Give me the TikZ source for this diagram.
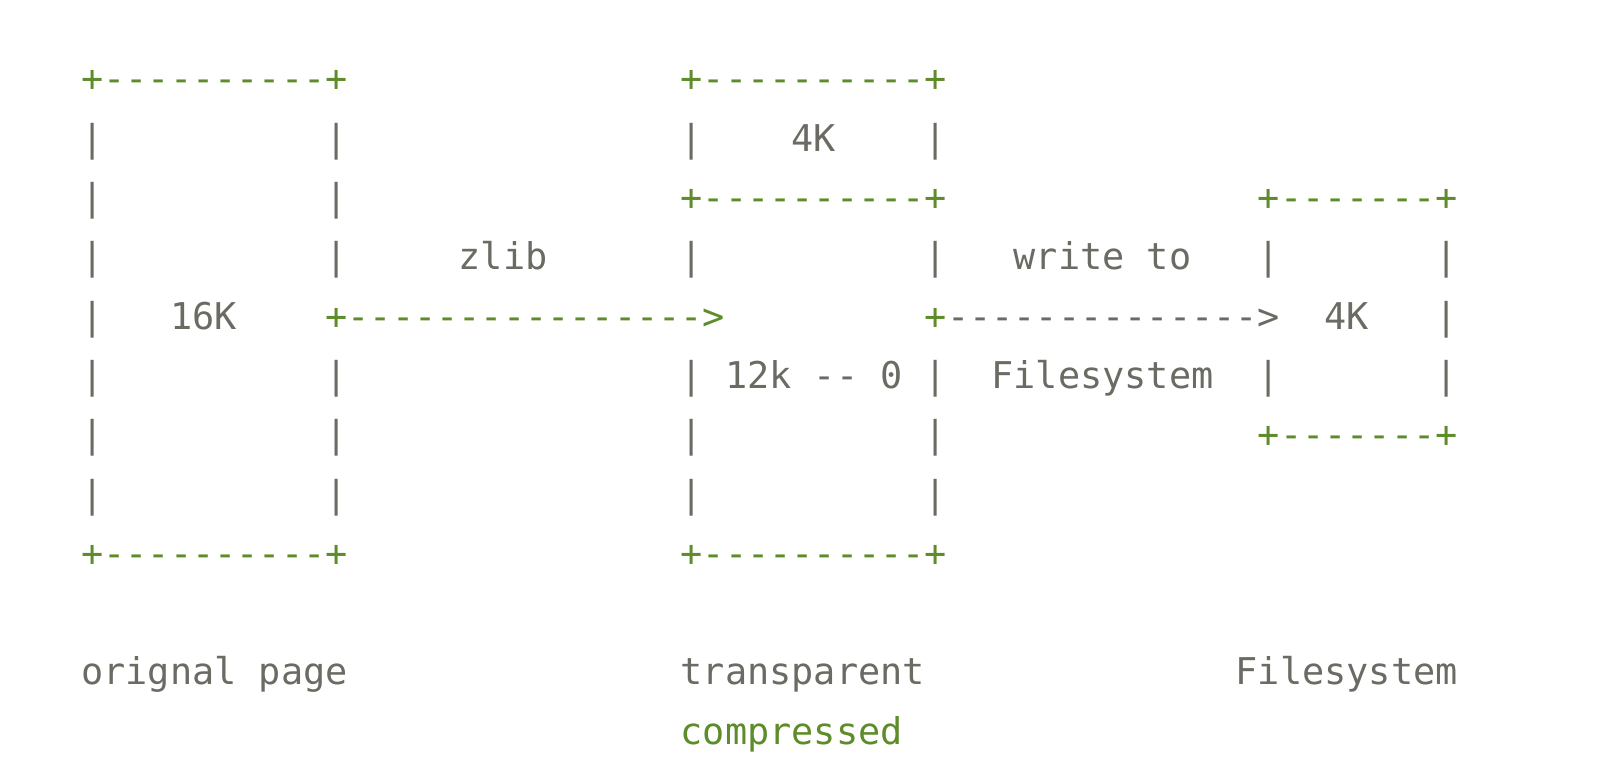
\documentclass[tikz,border=0pt]{standalone}
\usepackage{fontspec}
\setmonofont{DejaVu Sans Mono}
\usepackage{tikz}

\definecolor{asciigreen}{HTML}{5E8C2A}
\definecolor{asciigray}{HTML}{6B6A63}

\tikzset{
    ascii/.style={inner sep=0pt, anchor=base west, font=\ttfamily\fontsize{10.49}{12}\selectfont},
    boxline/.style={ascii, text=asciigreen},
    boxside/.style={ascii, text=asciigray},
    msg/.style={ascii, text=asciigray},
    hot/.style={ascii, text=asciigreen}
}

\begin{document}
\begin{tikzpicture}[x=0.222cm, y=-0.593cm]
    \useasboundingbox (-3.631,-1.551) rectangle (68.622,11.501);

    % orignal page
    \node[boxline] (orig top) at (0,0) {+----------+};
    \node[boxside] (orig l1) at (0,1) {|};
    \node[boxside] (orig l2) at (0,2) {|};
    \node[boxside] (orig l3) at (0,3) {|};
    \node[boxside] (orig l4) at (0,4) {|};
    \node[boxside] (orig l5) at (0,5) {|};
    \node[boxside] (orig l6) at (0,6) {|};
    \node[boxside] (orig l7) at (0,7) {|};
    \node[boxside] (orig r1) at (11,1) {|};
    \node[boxside] (orig r2) at (11,2) {|};
    \node[boxside] (orig r3) at (11,3) {|};
    \node[boxside] (orig r5) at (11,5) {|};
    \node[boxside] (orig r6) at (11,6) {|};
    \node[boxside] (orig r7) at (11,7) {|};
    \node[boxline] (orig bot) at (0,8) {+----------+};
    \node[msg] (orig size) at (4,4) {16K};
    \node[msg] (orig name) at (0,10) {orignal page};

    % zlib
    \node[boxline] (zlib arrow) at (11,4) {+---------------->};
    \node[msg] (zlib) at (17,3) {zlib};

    % transparent compressed
    \node[boxline] (tc top) at (27,0) {+----------+};
    \node[boxside] (tc l1) at (27,1) {|};
    \node[boxside] (tc r1) at (38,1) {|};
    \node[msg] (tc head) at (32,1) {4K};
    \node[boxline] (tc mid) at (27,2) {+----------+};
    \node[boxside] (tc l3) at (27,3) {|};
    \node[boxside] (tc l5) at (27,5) {|};
    \node[boxside] (tc l6) at (27,6) {|};
    \node[boxside] (tc l7) at (27,7) {|};
    \node[boxside] (tc r3) at (38,3) {|};
    \node[boxside] (tc r5) at (38,5) {|};
    \node[boxside] (tc r6) at (38,6) {|};
    \node[boxside] (tc r7) at (38,7) {|};
    \node[msg] (tc body) at (29,5) {12k -- 0};
    \node[boxline] (tc bot) at (27,8) {+----------+};
    \node[msg] (tc name) at (27,10) {transparent};
    \node[hot] (tc name2) at (27,11) {compressed};

    % write to filesystem
    \node[boxline] (write start) at (38,4) {+};
    \node[msg] (write arrow) at (39,4) {-------------->};
    \node[msg] (write) at (42,3) {write to};
    \node[msg] (write fs) at (41,5) {Filesystem};

    % filesystem
    \node[boxline] (fs top) at (53,2) {+-------+};
    \node[boxside] (fs l3) at (53,3) {|};
    \node[boxside] (fs l5) at (53,5) {|};
    \node[boxside] (fs r3) at (61,3) {|};
    \node[boxside] (fs r4) at (61,4) {|};
    \node[boxside] (fs r5) at (61,5) {|};
    \node[msg] (fs size) at (56,4) {4K};
    \node[boxline] (fs bot) at (53,6) {+-------+};
    \node[msg] (fs name) at (52,10) {Filesystem};
\end{tikzpicture}
\end{document}
